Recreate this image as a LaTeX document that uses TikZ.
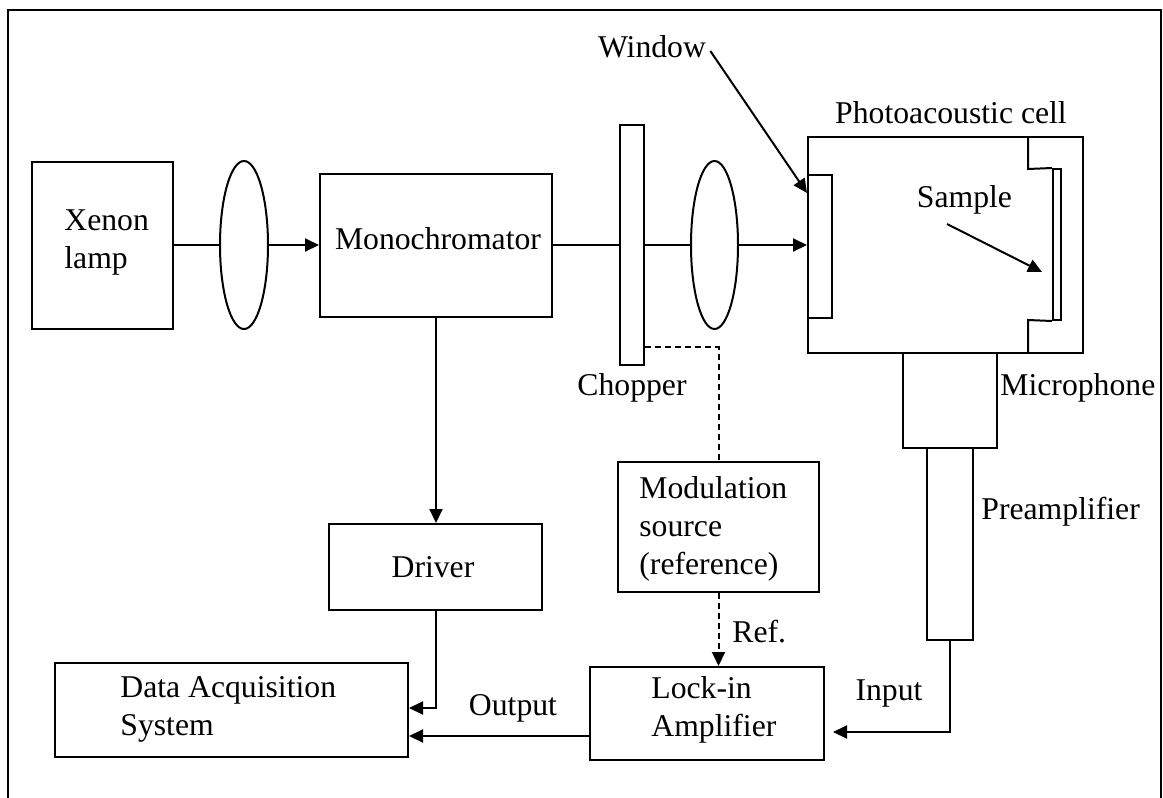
\documentclass[tikz,border=0pt]{standalone}
\usepackage{fontspec}
\setmainfont{Liberation Serif}
\usetikzlibrary{arrows.meta,shapes.geometric}
\begin{document}
\begin{tikzpicture}[x=0.5pt,y=-0.5pt,
  box/.style={draw,line width=1pt,rectangle,inner sep=0pt},
  lens/.style={draw,line width=1pt,ellipse,inner sep=0pt},
  lbl/.style={font=\fontsize{15.85}{19}\selectfont,inner sep=0pt,align=left},
  conn/.style={line width=1pt},
  arr/.style={line width=1pt,-{Triangle[length=7pt,width=6.5pt]}},
  dashline/.style={line width=1pt,dash pattern=on 3pt off 2pt}]
\useasboundingbox (0,0) rectangle (1163,798);
% outer frame (open at bottom)
\draw[line width=1.2pt] (8,798) -- (8,10) -- (1161,10) -- (1161,798);

% beam line components
\node[box,minimum width=70.5pt,minimum height=83.5pt] (xenon) at (102.5,245) {};
\node[lbl,anchor=west] at (64,242.5) {Xenon\\lamp};
\node[lens,minimum width=24pt,minimum height=84pt] (lens1) at (244,245) {};
\node[box,minimum width=116pt,minimum height=71.5pt] (mono) at (436,245) {};
\node[lbl] at (438,239) {Monochromator};
\node[box,minimum width=12pt,minimum height=120pt] (chopper) at (632,245) {};
\node[lbl] at (632,388) {Chopper};
\node[lens,minimum width=23.5pt,minimum height=84pt] (lens2) at (714.5,245) {};

% photoacoustic cell
\node[box,minimum width=137.5pt,minimum height=108pt] (cell) at (945.5,245) {};
\node[lbl] at (951,113) {Photoacoustic cell};
\node[box,minimum width=12pt,minimum height=71.5pt] (window) at (820,246.5) {};
\node[box,minimum width=4pt,minimum height=75.5pt] (sample) at (1057,244.5) {};
\draw[conn] (1028,137) -- (1028,169) -- (sample.north west);
\draw[conn] (sample.south west) -- (1028,320) -- (1028,353);
\node[lbl] (wlabel) at (652,47) {Window};
\node[lbl] (slabel) at (964.5,200) {Sample};
\coordinate (sstart) at (947,224);
\coordinate (stip) at (1042,272);

% microphone and preamplifier
\node[box,minimum width=47pt,minimum height=47.5pt] (mic) at (950,400.5) {};
\node[lbl,anchor=west] at (1000,388) {Microphone};
\node[box,minimum width=23pt,minimum height=96pt] (preamp) at (950,544) {};
\node[lbl,anchor=west] at (981,512) {Preamplifier};

% lower blocks
\node[box,minimum width=100.5pt,minimum height=65pt] (mod) at (718.5,527) {};
\node[lbl,anchor=west] at (639,529) {Modulation\\source\\(reference)};
\node[box,minimum width=106.5pt,minimum height=43pt] (driver) at (435.5,567) {};
\node[lbl] at (433,567) {Driver};
\node[box,minimum width=176.5pt,minimum height=47pt] (das) at (231.5,710) {};
\node[lbl,anchor=west] at (120,709) {Data Acquisition\\System};
\node[box,minimum width=117pt,minimum height=46.5pt] (lockin) at (707,713.5) {};
\node[lbl,anchor=west] at (651,710) {Lock-in\\Amplifier};
\node[lbl] at (513,708) {Output};
\node[lbl] at (889,693) {Input};
\node[lbl,anchor=west] at (732,632) {Ref.};

% connectors
\draw[conn] (xenon.east) -- (lens1.west);
\draw[arr] (lens1.east) -- (mono.west);
\draw[conn] (mono.east) -- (chopper.west);
\draw[conn] (chopper.east) -- (lens2.west);
\draw[arr] (lens2.east) -- (lens2.east -| window.west);
\draw[arr] ([xshift=2pt,yshift=-2pt]wlabel.east) -- ([yshift=26.75pt]window.west);
\draw[arr] (sstart) -- (stip);
\draw[arr] (mono.south) -- (mono.south |- driver.north);
\draw[arr] (driver.south) |- ([yshift=1pt]das.east);
\draw[arr] ([yshift=-11.25pt]lockin.west) -- ([yshift=-11.25pt]lockin.west -| das.east);
\draw[arr,shorten >=4pt] (preamp.south) |- ([yshift=-9.25pt]lockin.east);
\draw[dashline] ([yshift=-51pt]chopper.east) -| (mod.north);
\draw[dashline,-{Triangle[length=7pt,width=6.5pt]}] (mod.south) -- (mod.south |- lockin.north);
\end{tikzpicture}
\end{document}
